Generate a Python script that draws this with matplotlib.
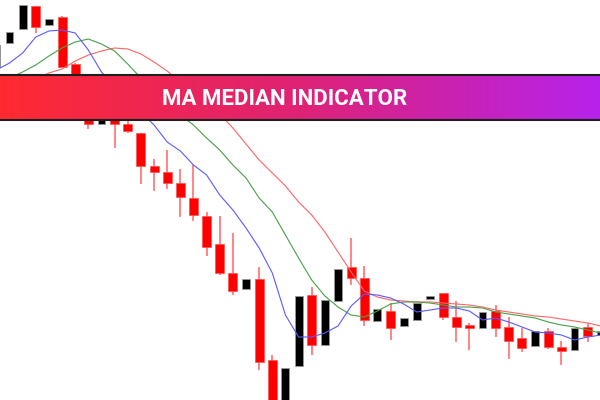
import numpy as np
import matplotlib.pyplot as plt

# candle data, index -1 is the partly visible bar at the left edge
opens = [333, 357, 371, 394, 375, 383, 336, 281, 276, 282, 276, 267, 234, 228, 217, 202,
         184, 156, 127, 111, 121, 40, -20, 34, 105, 55, 99, 133, 122, 79, 89, 74,
         80, 101, 107, 83, 75, 72, 89, 73, 62, 54, 69, 53, 50, 73, 65]
highs = [355, 368, 395, 394, 381, 384, 337, 283, 286, 284, 280, 267, 241, 250, 231, 235,
         188, 184, 167, 121, 133, 45, 32, 104, 113, 100, 131, 162, 134, 91, 97, 82,
         97, 104, 107, 99, 77, 88, 95, 83, 72, 69, 72, 59, 72, 77, 69]
lows = [333, 357, 371, 367, 375, 333, 284, 271, 276, 252, 267, 216, 209, 211, 183, 179,
        144, 125, 105, 111, 30, -30, -30, 34, 45, 55, 99, 115, 74, 79, 60, 74,
        80, 101, 80, 58, 50, 72, 63, 41, 48, 54, 51, 35, 50, 58, 65]
closes = [355, 368, 395, 373, 381, 333, 288, 276, 284, 276, 269, 234, 228, 217, 203, 185,
          153, 127, 109, 121, 38, -20, 32, 104, 55, 100, 131, 122, 80, 91, 72, 82,
          97, 104, 83, 73, 72, 88, 72, 59, 52, 69, 53, 49, 72, 64, 69]

ma_fast = [330, 337, 347, 363, 369, 370, 367, 350, 328, 314, 300, 288, 275, 258, 249, 235,
           225, 205, 190, 172, 152, 127, 85, 63, 63, 67, 74, 94, 106, 105, 102, 96,
           88, 90, 92, 92, 89, 80, 82, 78, 73, 68, 67, 65, 60, 63, 65]
ma_mid = [317, 322, 328, 335, 344, 352, 358, 361, 356, 349, 336, 322, 308, 296, 285, 275,
          262, 250, 235, 222, 202, 188, 165, 142, 120, 104, 93, 85, 83, 89, 96, 98,
          98, 97, 95, 93, 93, 92, 88, 86, 84, 82, 78, 75, 73, 70, 67]
ma_slow = [308, 312, 316, 321, 327, 331, 339, 345, 349, 352, 351, 346, 338, 329, 318, 308,
           298, 286, 272, 256, 240, 227, 214, 198, 185, 168, 148, 128, 109, 103, 100, 99,
           98, 98, 97, 96, 95, 93, 90, 88, 86, 84, 83, 81, 79, 77, 74]

title = "MA MEDIAN INDICATOR"

opens = np.array(opens)
closes = np.array(closes)
x = np.arange(len(opens)) - 1
up = closes >= opens

fig = plt.figure(figsize=(6, 4), dpi=100)
ax = fig.add_axes([0, 0, 1, 1])

# wicks
ax.vlines(x[~up], np.array(lows)[~up], np.array(highs)[~up], color="#ff7070", lw=1.2, zorder=1)
ax.vlines(x[up], np.array(lows)[up], np.array(highs)[up], color="#555555", lw=1.0, zorder=1)

# bodies
ax.bar(x[~up], (closes - opens)[~up], bottom=opens[~up], width=0.68,
       color="#ff0000", edgecolor="#ff5050", lw=0.5, zorder=2)
ax.bar(x[up], (closes - opens)[up], bottom=opens[up], width=0.6,
       color="#000000", edgecolor="#9a9a9a", lw=0.6, zorder=2)

ax.plot(x, ma_slow, color="#ff6464", lw=0.8, zorder=3)
ax.plot(x, ma_mid, color="#48a048", lw=0.8, zorder=3)
ax.plot(x, ma_fast, color="#5a5aff", lw=0.8, zorder=3)

ax.set_xlim(-9.5 / 13.14, (600 - 9.5) / 13.14)
ax.set_ylim(0, 400)
ax.axis("off")

# title banner
bax = fig.add_axes([0, 280 / 400, 1, 45 / 400])
stops = np.array([[255, 42, 48], [222, 34, 118], [182, 34, 236]]) / 255
t = np.linspace(0, 1, 600)
grad = np.stack([np.interp(t, [0, 0.5, 1], stops[:, k]) for k in range(3)], axis=-1)
bax.imshow(grad[np.newaxis, :, :], aspect="auto", extent=[0, 1, 0, 1])
bax.set_xlim(0, 1)
bax.set_ylim(0, 1)
bax.set_xticks([])
bax.set_yticks([])
for side in ["left", "right"]:
    bax.spines[side].set_visible(False)
for side in ["top", "bottom"]:
    bax.spines[side].set_color("#1e1e1e")
    bax.spines[side].set_linewidth(1.5)
bax.text(285 / 600, 0.47, title, color="white", fontsize=16, fontweight="bold",
         family="Roboto", ha="center", va="center")

plt.savefig("out.png", dpi=100)
